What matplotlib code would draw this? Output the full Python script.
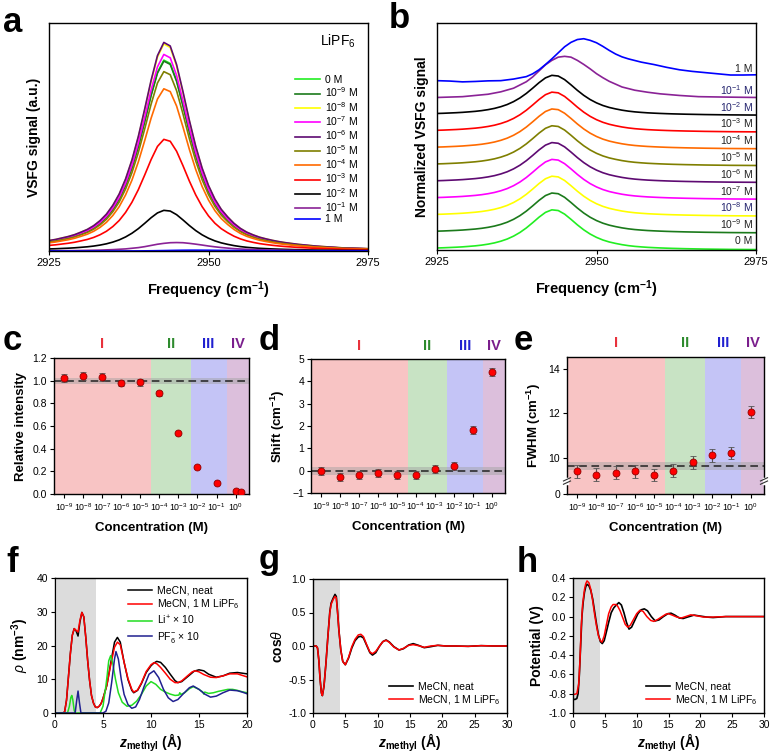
import numpy as np
import matplotlib.pyplot as plt

plt.rcParams['font.family'] = ['Liberation Sans', 'DejaVu Sans']
plt.rcParams['mathtext.fontset'] = 'custom'
plt.rcParams['mathtext.rm'] = 'Liberation Sans'
plt.rcParams['mathtext.it'] = 'Liberation Sans:italic'
plt.rcParams['mathtext.bf'] = 'Liberation Sans:bold'
plt.rcParams['mathtext.bfit'] = 'Liberation Sans:bold:italic'
plt.rcParams['axes.linewidth'] = 1.0

# ---------------- spectra (a, b) ----------------
conc_labels = ['0 M', '10$^{-9}$ M', '10$^{-8}$ M', '10$^{-7}$ M', '10$^{-6}$ M', '10$^{-5}$ M',
               '10$^{-4}$ M', '10$^{-3}$ M', '10$^{-2}$ M', '10$^{-1}$ M', '1 M']
conc_colors = ['#22ee22', '#1b7a1b', '#ffff00', '#ff00ff', '#5e0a72', '#7f7f00',
               '#ff6a00', '#ff0000', '#000000', '#8a2296', '#0000ff']

freq = [2925, 2926, 2927, 2928, 2929, 2930, 2931, 2932, 2933, 2934,
        2935, 2936, 2937, 2938, 2939, 2940, 2941, 2942, 2943, 2944,
        2945, 2946, 2947, 2948, 2949, 2950, 2951, 2952, 2953, 2954,
        2955, 2956, 2957, 2958, 2959, 2960, 2961, 2962, 2963, 2964,
        2965, 2966, 2967, 2968, 2969, 2970, 2971, 2972, 2973, 2974, 2975]
# normalized line shape, 0 M .. 10^-2 M
profile = [0.050, 0.055, 0.062, 0.069, 0.078, 0.090, 0.103, 0.121, 0.145, 0.176,
           0.218, 0.272, 0.344, 0.435, 0.547, 0.678, 0.815, 0.933, 0.996, 0.979,
           0.890, 0.761, 0.624, 0.500, 0.396, 0.313, 0.248, 0.199, 0.163, 0.132,
           0.108, 0.090, 0.077, 0.066, 0.058, 0.051, 0.045, 0.040, 0.036, 0.032,
           0.029, 0.026, 0.023, 0.021, 0.019, 0.017, 0.015, 0.014, 0.013, 0.012, 0.011]
# 10^-1 M line shape
freq_01 = [2925, 2929, 2933, 2935, 2937, 2939, 2940, 2941, 2942, 2943, 2944, 2945, 2946, 2947,
           2948, 2949, 2950, 2951, 2952, 2954, 2956, 2958, 2960, 2963, 2966, 2970, 2975]
profile_01 = [0.03, 0.05, 0.11, 0.17, 0.26, 0.42, 0.54, 0.69, 0.84, 0.95, 1.03, 1.05, 1.03, 0.95,
              0.85, 0.74, 0.62, 0.52, 0.43, 0.29, 0.21, 0.16, 0.12, 0.08, 0.05, 0.04, 0.03]
# 1 M line shape
freq_1M = [2925, 2927, 2929, 2931, 2933, 2935, 2937, 2939, 2940, 2941, 2942, 2943, 2944, 2945,
           2946, 2947, 2948, 2949, 2950, 2951, 2952, 2953, 2954, 2955, 2957, 2959, 2961, 2963,
           2965, 2967, 2969, 2971, 2973, 2975]
profile_1M = [0.03, 0.02, 0.0, 0.01, 0.025, 0.03, 0.07, 0.13, 0.2, 0.3, 0.43, 0.57, 0.72, 0.87,
              0.98, 1.05, 1.07, 1.03, 0.97, 0.88, 0.78, 0.69, 0.62, 0.57, 0.49, 0.43, 0.36, 0.30,
              0.26, 0.23, 0.20, 0.17, 0.17, 0.175]
# raw peak amplitude (relative to 0 M) in panel a
amps_a = [1.0, 0.995, 1.085, 1.03, 1.093, 0.94, 0.85, 0.585, 0.213, 0.042, 0.004]
offset_step = 0.417

# ---------------- fit results (c, d, e) ----------------
conc_exp = [-9, -8, -7, -6, -5, -4, -3, -2, -1, 0]
rel_int_exp = [-9, -8, -7, -6, -5, -4, -3, -2, -1, 0, 0.3]
rel_int = [1.026, 1.04, 1.035, 0.98, 0.985, 0.887, 0.537, 0.238, 0.098, 0.024, 0.015]
rel_int_err = [0.035, 0.035, 0.035, 0.03, 0.03, 0.02, 0.01, 0.01, 0.01, 0.01, 0.01]
shift = [0.0, -0.3, -0.2, -0.1, -0.2, -0.2, 0.09, 0.21, 1.82, 4.42]
shift_err = [0.18, 0.18, 0.18, 0.18, 0.18, 0.18, 0.18, 0.18, 0.18, 0.18]
fwhm = [9.38, 9.22, 9.31, 9.37, 9.22, 9.41, 9.79, 10.1, 10.2, 12.07]
fwhm_err = [0.3, 0.3, 0.3, 0.3, 0.28, 0.3, 0.3, 0.28, 0.28, 0.28]
region_edges = [-9.52, -4.43, -2.36, -0.47, 0.7]
region_names = ['I', 'II', 'III', 'IV']
region_fill = ['#f8c4c4', '#c8e3c4', '#c4c4f6', '#dcbfdc']
region_text = ['#e8323c', '#2e8b2e', '#2020d0', '#7a1e8c']

# ---------------- MD profiles (f, g, h) ----------------
f_neat_z = [0, 0.8, 1.0, 1.2, 1.4, 1.6, 1.8, 2.0, 2.2, 2.4, 2.6, 2.8, 3.0, 3.2, 3.4, 3.6, 3.8, 4.0,
            4.2, 4.4, 4.6, 4.8, 5.0, 5.4, 5.8, 6.2, 6.5, 6.8, 7.2, 7.6, 8.0, 8.2, 8.6, 9.0, 9.5,
            10.0, 10.3, 10.6, 11.0, 11.5, 12.0, 12.5, 12.8, 13.2, 14.0, 14.5, 15.0, 15.5, 16.0,
            16.8, 17.5, 18.2, 19.0, 20.0]
f_neat = [0, 0, 0.3, 3.8, 10.7, 17.6, 23.0, 25.0, 24.3, 22.8, 27.0, 29.8, 28.5, 22.6, 15.6, 9.7,
          5.2, 3.0, 1.8, 1.6, 2.0, 2.8, 4.3, 8.2, 14.7, 21.0, 22.4, 21.0, 15.0, 9.9, 6.7, 6.0, 6.7,
          8.7, 12.0, 14.0, 14.8, 15.3, 15.0, 13.5, 11.5, 9.6, 9.0, 9.3, 11.2, 12.4, 12.8, 12.5,
          11.5, 10.6, 11.0, 11.8, 12.0, 11.6]
f_salt_z = [0, 0.8, 1.0, 1.2, 1.4, 1.6, 1.8, 2.0, 2.2, 2.4, 2.6, 2.8, 3.0, 3.2, 3.4, 3.6, 3.8, 4.0,
            4.2, 4.4, 4.6, 4.8, 5.0, 5.4, 5.8, 6.2, 6.5, 6.8, 7.2, 7.6, 8.0, 8.2, 8.6, 9.0, 9.5,
            10.0, 10.3, 10.6, 11.0, 11.5, 12.0, 12.5, 12.8, 13.2, 13.8, 14.3, 14.6, 15.0, 15.5,
            16.2, 16.8, 17.5, 18.2, 19.0, 20.0]
f_salt = [0, 0, 0.3, 3.8, 10.7, 17.6, 23.0, 25.0, 24.5, 24.0, 27.5, 29.8, 28.5, 22.6, 15.6, 9.7,
          5.2, 3.0, 1.8, 1.6, 2.0, 2.8, 4.3, 8.2, 14.2, 19.5, 21.0, 20.2, 15.0, 10.2, 7.0, 6.2, 6.8,
          8.9, 12.3, 14.3, 14.9, 14.6, 13.5, 11.8, 10.0, 9.0, 9.0, 9.5, 11.0, 12.2, 12.5, 12.2,
          11.4, 10.6, 10.5, 11.0, 11.6, 11.6, 10.7]
f_li_z = [0, 1.3, 1.5, 1.65, 1.75, 1.85, 2.0, 2.1, 4.7, 5.0, 5.3, 5.45, 5.5, 5.6, 5.8, 6.0, 6.3,
          6.6, 7.0, 7.5, 8.0, 8.5, 9.0, 9.5, 10.0, 10.5, 11.0, 11.5, 12.0, 12.5, 12.9, 13.0, 13.1,
          13.5, 14.0, 14.4, 15.0, 15.4, 15.5, 15.6, 16.0, 16.5, 17.0, 17.5, 18.0, 18.5, 19.0,
          19.5, 20.0]
f_li = [0, 0, 2.0, 4.6, 5.2, 4.0, 0.8, 0, 0, 2.0, 8.0, 11.5, 13.0, 15.5, 17.0, 15.0, 10.0, 6.0,
        3.2, 2.0, 2.3, 3.5, 5.5, 8.0, 9.3, 8.5, 7.0, 6.2, 5.6, 5.2, 5.3, 6.0, 5.5, 6.0, 7.2, 7.8,
        7.0, 6.2, 5.6, 6.2, 5.8, 6.0, 6.4, 6.7, 7.0, 7.0, 6.7, 6.3, 6.0]
f_pf6_z = [0, 2.1, 2.25, 2.4, 2.55, 2.7, 5.0, 5.3, 5.6, 5.9, 6.2, 6.35, 6.6, 6.9, 7.2, 7.6, 8.0,
           8.4, 8.8, 9.3, 9.8, 10.3, 10.8, 11.3, 11.8, 12.3, 12.8, 13.4, 14.0, 14.4, 15.0, 15.6,
           16.2, 16.8, 17.5, 18.2, 19.0, 19.5, 20.0]
f_pf6 = [0, 0, 3.5, 6.5, 3.0, 0, 0, 0.5, 3.0, 9.0, 16.0, 18.2, 16.0, 10.0, 5.5, 2.5, 1.4, 1.8,
         4.0, 8.0, 11.5, 12.5, 10.5, 7.0, 4.5, 3.4, 4.0, 5.8, 7.5, 8.0, 7.0, 5.6, 4.7, 5.0, 6.0,
         6.8, 6.6, 6.2, 5.7]

g_z = [0, 0.5, 0.7, 0.9, 1.1, 1.3, 1.45, 1.7, 2.0, 2.3, 2.6, 2.8, 3.1, 3.4, 3.6, 3.8, 4.0, 4.3,
       4.6, 5.0, 5.5, 6.0, 6.5, 7.0, 7.4, 7.8, 8.3, 8.8, 9.2, 9.7, 10.3, 10.8, 11.3, 11.8, 12.5,
       13.3, 14.0, 14.8, 15.5, 16.3, 17.2, 18.2, 19.3, 20.5, 22, 24, 26, 28, 30]
g_neat = [0, 0, -0.03, -0.21, -0.5, -0.7, -0.74, -0.6, -0.26, 0.14, 0.51, 0.64, 0.71, 0.77, 0.74,
          0.51, 0.24, -0.06, -0.23, -0.28, -0.18, -0.03, 0.08, 0.135, 0.145, 0.12, 0.01, -0.10,
          -0.135, -0.10, 0.0, 0.065, 0.09, 0.06, -0.01, -0.06, -0.04, 0.015, 0.035, 0.01, -0.025,
          -0.01, 0.01, 0, 0, -0.005, 0.005, 0, 0]
g_salt = [0, 0, -0.03, -0.21, -0.5, -0.7, -0.74, -0.6, -0.26, 0.14, 0.5, 0.62, 0.69, 0.74, 0.72,
          0.5, 0.24, -0.06, -0.23, -0.28, -0.17, -0.01, 0.1, 0.165, 0.175, 0.14, 0.02, -0.09,
          -0.115, -0.08, 0.0, 0.065, 0.085, 0.055, -0.015, -0.06, -0.035, 0.01, 0.02, 0.005,
          -0.02, 0.0, 0.01, 0, 0, -0.005, 0.005, 0, 0]

h_neat_z = [0, 0.3, 0.6, 0.8, 1.0, 1.2, 1.4, 1.6, 1.8, 2.0, 2.2, 2.5, 2.8, 3.1, 3.4, 3.7, 4.0, 4.3,
            4.6, 4.9, 5.2, 5.6, 6.0, 6.4, 6.8, 7.2, 7.6, 8.0, 8.4, 8.8, 9.2, 9.7, 10.2, 10.7, 11.2,
            11.7, 12.3, 12.9, 13.5, 14.2, 14.9, 15.4, 16.0, 16.7, 17.3, 18.0, 19.0, 20.0, 21.0,
            22.0, 24.0, 26.0, 30.0]
h_neat = [-0.855, -0.86, -0.85, -0.8, -0.6, -0.3, 0.0, 0.15, 0.25, 0.31, 0.335, 0.32, 0.27, 0.18,
          0.05, -0.08, -0.19, -0.26, -0.28, -0.25, -0.17, -0.06, 0.04, 0.09, 0.12, 0.145, 0.12,
          0.04, -0.06, -0.13, -0.11, -0.04, 0.03, 0.07, 0.08, 0.06, 0.0, -0.045, -0.035, 0.0,
          0.03, 0.035, 0.015, -0.015, -0.02, -0.005, 0.015, 0.005, -0.005, -0.01, 0, 0, 0]
h_salt_z = [0, 0.6, 0.9, 1.1, 1.3, 1.5, 1.8, 2.0, 2.2, 2.5, 2.8, 3.1, 3.4, 3.7, 4.0, 4.3, 4.55,
            4.9, 5.2, 5.6, 6.0, 6.3, 6.7, 7.0, 7.4, 7.8, 8.2, 8.6, 9.0, 9.5, 10.0, 10.5, 11.0,
            11.6, 12.2, 12.7, 13.3, 14.0, 14.6, 15.0, 15.6, 16.3, 17.0, 17.7, 18.5, 19.3, 20.5,
            22, 24, 30]
h_salt = [-0.81, -0.8, -0.7, -0.45, -0.1, 0.12, 0.28, 0.34, 0.37, 0.35, 0.28, 0.16, 0.02, -0.1,
          -0.2, -0.25, -0.265, -0.2, -0.1, 0.03, 0.1, 0.125, 0.125, 0.11, 0.06, -0.01, -0.08,
          -0.11, -0.09, -0.03, 0.03, 0.065, 0.055, 0.0, -0.04, -0.05, -0.03, 0.0, 0.025, 0.03,
          0.015, -0.005, -0.015, 0.0, 0.018, 0.01, -0.005, -0.005, 0, 0]

W, H = 773, 756
fig = plt.figure(figsize=(W / 100, H / 100), dpi=100)


def add_ax(left, top, right, bottom):
    return fig.add_axes([left / W, 1 - bottom / H, (right - left) / W, (bottom - top) / H])


def style(ax, size=7.5):
    ax.tick_params(direction='out', length=3, width=0.8, labelsize=size, pad=2)


def line_for(i):
    if i == 9:
        return freq_01, profile_01
    if i == 10:
        return freq_1M, profile_1M
    return freq, profile


# ---- a ----
ax = add_ax(49, 23, 368, 251)
for i, lab in enumerate(conc_labels):
    x, p = line_for(i)
    ax.plot(x, np.array(p) * amps_a[i], color=conc_colors[i], lw=1.2, label=lab)
ax.set_xlim(2925, 2975)
ax.set_ylim(0, 1.19)
ax.set_yticks([])
ax.set_xticks([2925, 2950, 2975])
style(ax, 8)
ax.set_xlabel('Frequency (cm$^{\\mathbf{-1}}$)', fontsize=10.5, fontweight='bold', labelpad=8)
ax.set_ylabel('VSFG signal (a.u.)', fontsize=10, fontweight='bold', labelpad=6)
ax.text(0.96, 0.92, 'LiPF$_6$', transform=ax.transAxes, ha='right', va='center', fontsize=10)
ax.legend(loc='upper left', bbox_to_anchor=(0.755, 0.795), frameon=False, fontsize=7.5,
          handlelength=2.4, handletextpad=0.5, labelspacing=0.05, borderpad=0)

# ---- b ----
ax = add_ax(437, 23, 756, 250)
for i, lab in enumerate(conc_labels):
    x, p = line_for(i)
    off = i * offset_step
    ax.plot(x, np.array(p) + off, color=conc_colors[i], lw=1.2)
    dy = 0.31 if i == 10 else 0.22
    tcol = '#24246e' if i in (2, 8, 9) else '#222222'
    ax.text(2974.5, off + dy, lab, ha='right', va='center', fontsize=7.5, color=tcol)
ax.set_xlim(2925, 2975)
ax.set_ylim(0, 5.63)
ax.set_yticks([])
ax.set_xticks([2925, 2950, 2975])
style(ax, 8)
ax.set_xlabel('Frequency (cm$^{\\mathbf{-1}}$)', fontsize=10.5, fontweight='bold', labelpad=8)
ax.set_ylabel('Normalized VSFG signal', fontsize=10, fontweight='bold', labelpad=6)


# ---- c, d, e ----
def conc_panel(ax, xs, ys, es, ylo, yhi, ref, band):
    for k in range(4):
        ax.axvspan(10.0 ** region_edges[k], 10.0 ** region_edges[k + 1], color=region_fill[k],
                   lw=0, zorder=0)
        mid = (region_edges[k] + region_edges[k + 1]) / 2
        if k == 0:
            mid = -7.0
        ax.text(10.0 ** mid, 1.1, region_names[k], transform=ax.get_xaxis_transform(),
                ha='center', va='center', fontsize=10.5, fontweight='bold', color=region_text[k])
    ax.axhspan(band[0], band[1], color='#a0a0a0', alpha=0.45, lw=0, zorder=1)
    ax.axhline(ref, color='#222222', lw=1.1, dashes=(5, 3), zorder=2)
    ax.errorbar(10.0 ** np.array(xs), ys, yerr=es, fmt='o', mfc='#ff0000', mec='#900000',
                mew=0.6, ms=5, ecolor='#555555', elinewidth=0.8, capsize=2, capthick=0.8,
                zorder=5)
    ax.set_xscale('log')
    ax.set_xlim(10.0 ** region_edges[0], 10.0 ** region_edges[-1])
    ax.set_ylim(ylo, yhi)
    ax.set_xticks([10.0 ** e for e in conc_exp])
    ax.set_xticklabels(['10$^{%d}$' % e for e in conc_exp])
    ax.minorticks_off()
    style(ax, 7.5)
    ax.tick_params(axis='x', labelsize=6.3, pad=2)
    ax.set_xlabel('Concentration (M)', fontsize=9.5, fontweight='bold', labelpad=7)


ax = add_ax(54, 358, 249, 494)
conc_panel(ax, rel_int_exp, rel_int, rel_int_err, 0, 1.2, 1.0, (0.975, 1.02))
ax.set_yticks([0, 0.2, 0.4, 0.6, 0.8, 1.0, 1.2])
ax.set_yticklabels(['0.0', '0.2', '0.4', '0.6', '0.8', '1.0', '1.2'])
ax.set_ylabel('Relative intensity', fontsize=9.5, fontweight='bold', labelpad=4)

ax = add_ax(311, 359, 505, 493)
conc_panel(ax, conc_exp, shift, shift_err, -1, 5, 0.0, (-0.2, 0.15))
ax.set_yticks([-1, 0, 1, 2, 3, 4, 5])
ax.set_ylabel('Shift (cm$^{\\mathbf{-1}}$)', fontsize=9.5, fontweight='bold', labelpad=4)

ax = add_ax(567, 357, 764, 494)
conc_panel(ax, conc_exp, fwhm, fwhm_err, 8.35, 14.55, 9.61, (9.43, 9.78))
ax.set_yticks([8.35, 10, 12, 14])
ax.set_yticklabels(['0', '10', '12', '14'])
ax.set_ylabel('FWHM (cm$^{\\mathbf{-1}}$)', fontsize=9.5, fontweight='bold', labelpad=4)
yb = 0.095
for xb in (0, 1):
    ax.plot([xb, xb], [yb - 0.012, yb + 0.012], transform=ax.transAxes, color='white', lw=2.5,
            clip_on=False, zorder=10)
    for dyb in (-0.012, 0.012):
        ax.plot([xb - 0.018, xb + 0.018], [yb + dyb - 0.012, yb + dyb + 0.012],
                transform=ax.transAxes, color='#333333', lw=0.8, clip_on=False, zorder=11)

# ---- f, g, h ----
zlabel = '$\\mathbfit{z}_{\\mathbf{methyl}}$ (Å)'
salt_label = 'MeCN, 1 M LiPF$_6$'


def md_axes(ax, xmax, ylo, yhi):
    ax.axvspan(0.2, 4.25, color='#dcdcdc', lw=0, zorder=0)
    ax.set_xlim(0, xmax)
    ax.set_ylim(ylo, yhi)
    style(ax, 7.5)
    ax.set_xlabel(zlabel, fontsize=10, fontweight='bold', labelpad=1)


ax = add_ax(55, 578, 247, 713)
md_axes(ax, 20, 0, 40)
ax.plot(f_neat_z, f_neat, color='black', lw=1.1, label='MeCN, neat')
ax.plot(f_salt_z, f_salt, color='#ff0000', lw=1.1, label=salt_label)
ax.plot(f_li_z, f_li, color='#22dd22', lw=1.1, label='Li$^{+}$ × 10')
ax.plot(f_pf6_z, f_pf6, color='#202090', lw=1.1, label='PF$_6^{-}$ × 10')
ax.set_xticks([0, 5, 10, 15, 20])
ax.set_yticks([0, 10, 20, 30, 40])
ax.set_ylabel('$\\mathit{\\rho}$ (nm$^{\\mathbf{-3}}$)', fontsize=10, fontweight='bold', labelpad=4)
ax.legend(loc='upper right', frameon=False, fontsize=7.5, handlelength=2.3, handletextpad=0.5,
          labelspacing=0.25, borderaxespad=0.3)

ax = add_ax(313, 579, 507, 713)
md_axes(ax, 30, -1, 1)
ax.plot(g_z, g_neat, color='black', lw=1.2, label='MeCN, neat')
ax.plot(g_z, g_salt, color='#ff0000', lw=1.1, label=salt_label)
ax.set_xticks([0, 5, 10, 15, 20, 25, 30])
ax.set_yticks([-1, -0.5, 0, 0.5, 1])
ax.set_yticklabels(['-1.0', '-0.5', '0.0', '0.5', '1.0'])
ax.set_ylabel('cos$\\mathit{\\theta}$', fontsize=10, fontweight='bold', labelpad=2)
ax.legend(loc='lower right', frameon=False, fontsize=7.5, handlelength=2.3, handletextpad=0.5,
          labelspacing=0.15, borderaxespad=0.2)

ax = add_ax(573, 578, 764, 713)
md_axes(ax, 30, -1, 0.4)
ax.plot(h_neat_z, h_neat, color='black', lw=1.2, label='MeCN, neat')
ax.plot(h_salt_z, h_salt, color='#ff0000', lw=1.1, label=salt_label)
ax.set_xticks([0, 5, 10, 15, 20, 25, 30])
ax.set_yticks([-1.0, -0.8, -0.6, -0.4, -0.2, 0.0, 0.2, 0.4])
ax.set_yticklabels(['-1.0', '-0.8', '-0.6', '-0.4', '-0.2', '0.0', '0.2', '0.4'])
ax.set_ylabel('Potential (V)', fontsize=10, fontweight='bold', labelpad=3)
ax.legend(loc='lower right', frameon=False, fontsize=7.5, handlelength=2.3, handletextpad=0.5,
          labelspacing=0.15, borderaxespad=0.2)

# panel letters
for letter, (px, py) in {'a': (3, 22), 'b': (389, 18), 'c': (3, 340), 'd': (259, 340),
                         'e': (514, 340), 'f': (6, 562), 'g': (259, 560), 'h': (517, 563)}.items():
    fig.text(px / W, 1 - py / H, letter, fontsize=25, fontweight='bold', ha='left', va='center')

fig.savefig('out.png', dpi=100)
